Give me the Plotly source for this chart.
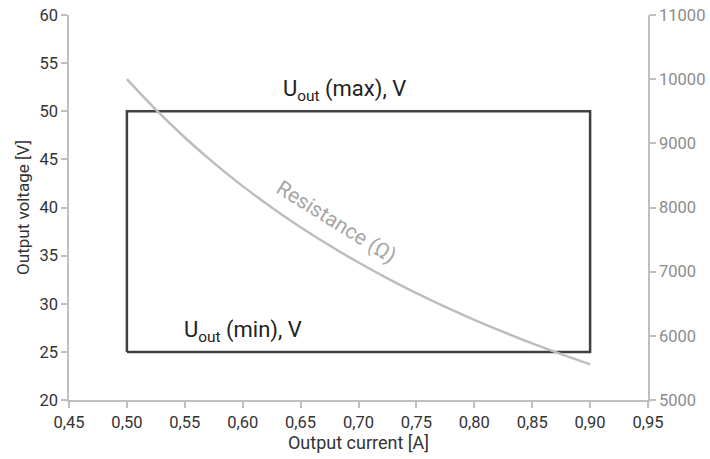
import plotly.graph_objects as go

# Operating window (rectangle corners)
rect_current = [0.50, 0.50, 0.90, 0.90, 0.50]
rect_voltage = [25, 50, 50, 25, 25]

# Resistance curve
res_current = [0.50, 0.525, 0.55, 0.575, 0.60, 0.625, 0.65, 0.675, 0.70,
               0.725, 0.75, 0.775, 0.80, 0.825, 0.85, 0.875, 0.90]
res_ohm = [10000, 9524, 9091, 8696, 8333, 8000, 7692, 7407, 7143,
           6897, 6667, 6452, 6250, 6061, 5882, 5714, 5556]

x_ticks = [0.45, 0.50, 0.55, 0.60, 0.65, 0.70, 0.75, 0.80, 0.85, 0.90, 0.95]
x_tick_labels = ["0,45", "0,50", "0,55", "0,60", "0,65", "0,70", "0,75", "0,80", "0,85", "0,90", "0,95"]

FONT = "Roboto"
AX = "#bfbfbf"

fig = go.Figure()
fig.add_trace(go.Scatter(x=rect_current, y=rect_voltage, mode="lines",
                         line=dict(color="#404040", width=2.5), hoverinfo="skip",
                         showlegend=False))
fig.add_trace(go.Scatter(x=res_current, y=res_ohm, mode="lines", yaxis="y2",
                         line=dict(color="#bdbdbd", width=2.5, shape="spline"),
                         showlegend=False))

fig.update_layout(
    width=710, height=459,
    margin=dict(l=69, r=62, t=15, b=59, autoexpand=False),
    paper_bgcolor="white", plot_bgcolor="white",
    font=dict(family=FONT, color="#333333", size=16),
    xaxis=dict(range=[0.45, 0.95], tickvals=x_ticks, ticktext=x_tick_labels,
               automargin=False,
               showgrid=False, zeroline=False, showline=True, linecolor=AX, linewidth=1.5,
               ticks="outside", tickcolor=AX, ticklen=6, tickwidth=1.5,
               tickfont=dict(size=16.5, color="#333333"),
               title=dict(text="Output current [A]", font=dict(size=18, color="#333333"), standoff=3)),
    yaxis=dict(range=[20, 60], dtick=5, showgrid=False, zeroline=False,
               automargin=False,
               showline=True, linecolor=AX, linewidth=1.5,
               ticks="outside", tickcolor=AX, ticklen=6, tickwidth=1.5,
               ticklabeloverflow="allow",
               tickfont=dict(size=16.5, color="#333333"),
               title=dict(text="Output voltage [V]", font=dict(size=17, color="#333333"), standoff=5)),
    yaxis2=dict(range=[5000, 11000], dtick=1000, tickformat="d", overlaying="y", side="right",
                automargin=False,
                showgrid=False, zeroline=False, showline=True, linecolor=AX, linewidth=1.5,
                ticks="outside", tickcolor=AX, ticklen=6, tickwidth=1.5,
                ticklabeloverflow="allow",
                tickfont=dict(size=16.5, color="#8c8c8c")),
    annotations=[
        dict(x=0.688, y=50.4, xref="x", yref="y", yanchor="bottom", showarrow=False,
             text="U<sub>out</sub> (max), V", font=dict(size=22, color="#222222")),
        dict(x=0.600, y=25.4, xref="x", yref="y", yanchor="bottom", showarrow=False,
             text="U<sub>out</sub> (min), V", font=dict(size=22, color="#222222")),
        dict(x=0.681, y=38.5, xref="x", yref="y", showarrow=False, textangle=32,
             text="Resistance (Ω)", font=dict(size=21, color="#a6a6a6")),
    ],
)

fig.write_html("out.html", config={"displayModeBar": False},
               post_script="document.body.style.margin='0';document.body.style.overflow='hidden';")
